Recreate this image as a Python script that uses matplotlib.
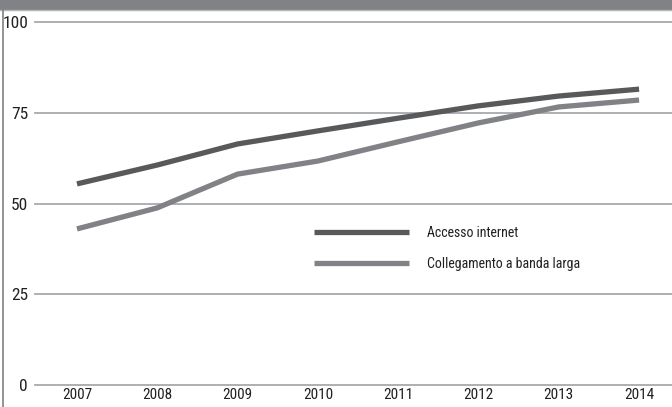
import matplotlib.pyplot as plt
from matplotlib import font_manager
from matplotlib.patches import Rectangle
from matplotlib.lines import Line2D

years = [2007, 2008, 2009, 2010, 2011, 2012, 2013, 2014]
accesso_internet = [55.4, 60.6, 66.4, 70.0, 73.5, 76.9, 79.6, 81.5]
banda_larga = [43.0, 48.8, 58.1, 61.7, 67.0, 72.2, 76.6, 78.5]
y_ticks = [0, 25, 50, 75, 100]

names = set(f.name for f in font_manager.fontManager.ttflist)
fams = [f for f in ['Liberation Sans Narrow', 'DejaVu Sans Condensed', 'Roboto Condensed']
        if f in names] + ['DejaVu Sans']
plt.rcParams['font.family'] = fams

fig = plt.figure(figsize=(6.72, 4.07), dpi=100)
ax = fig.add_axes([35 / 672, 1 - 385 / 407, 1 - 35 / 672, 363 / 407])

# header band (cropped in the reference)
fig.patches.append(Rectangle((0, 1 - 9 / 407), 1, 9 / 407, transform=fig.transFigure,
                             color='#808285', zorder=0))
fig.lines.append(Line2D([0, 1], [1 - 10 / 407, 1 - 10 / 407], transform=fig.transFigure,
                        color='#b5b6b8', lw=1))
fig.lines.append(Line2D([2.5 / 672, 2.5 / 672], [0, 1 - 10 / 407], transform=fig.transFigure,
                        color='#808285', lw=1.2))

for y in y_ticks:
    ax.axhline(y, color='#a7a9ac', lw=1.3, zorder=1, clip_on=False)

ax.plot(years, accesso_internet, color='#58595b', lw=3.8, solid_capstyle='butt',
        label='Accesso internet', zorder=3, clip_on=False)
ax.plot(years, banda_larga, color='#808285', lw=3.8, solid_capstyle='butt',
        label='Collegamento a banda larga', zorder=3, clip_on=False)

ax.set_xlim(2006.477, 2014.41)
ax.set_ylim(0, 100)
ax.set_yticks(y_ticks)
ax.set_xticks(years)
ax.set_xticklabels([str(y) for y in years], fontsize=11, color='#231f20')
ax.set_yticklabels([str(y) for y in y_ticks], fontsize=12.5, color='#231f20')
ax.tick_params(axis='both', length=0)
ax.tick_params(axis='x', pad=2)
ax.tick_params(axis='y', pad=5)
for s in ax.spines.values():
    s.set_visible(False)

ax.legend(loc='upper left', bbox_to_anchor=(0.419, 0.472), frameon=False,
          fontsize=10, handlelength=6.8, handletextpad=1.3, labelspacing=1.2,
          labelcolor='#231f20')

fig.savefig('out.png', dpi=100)
